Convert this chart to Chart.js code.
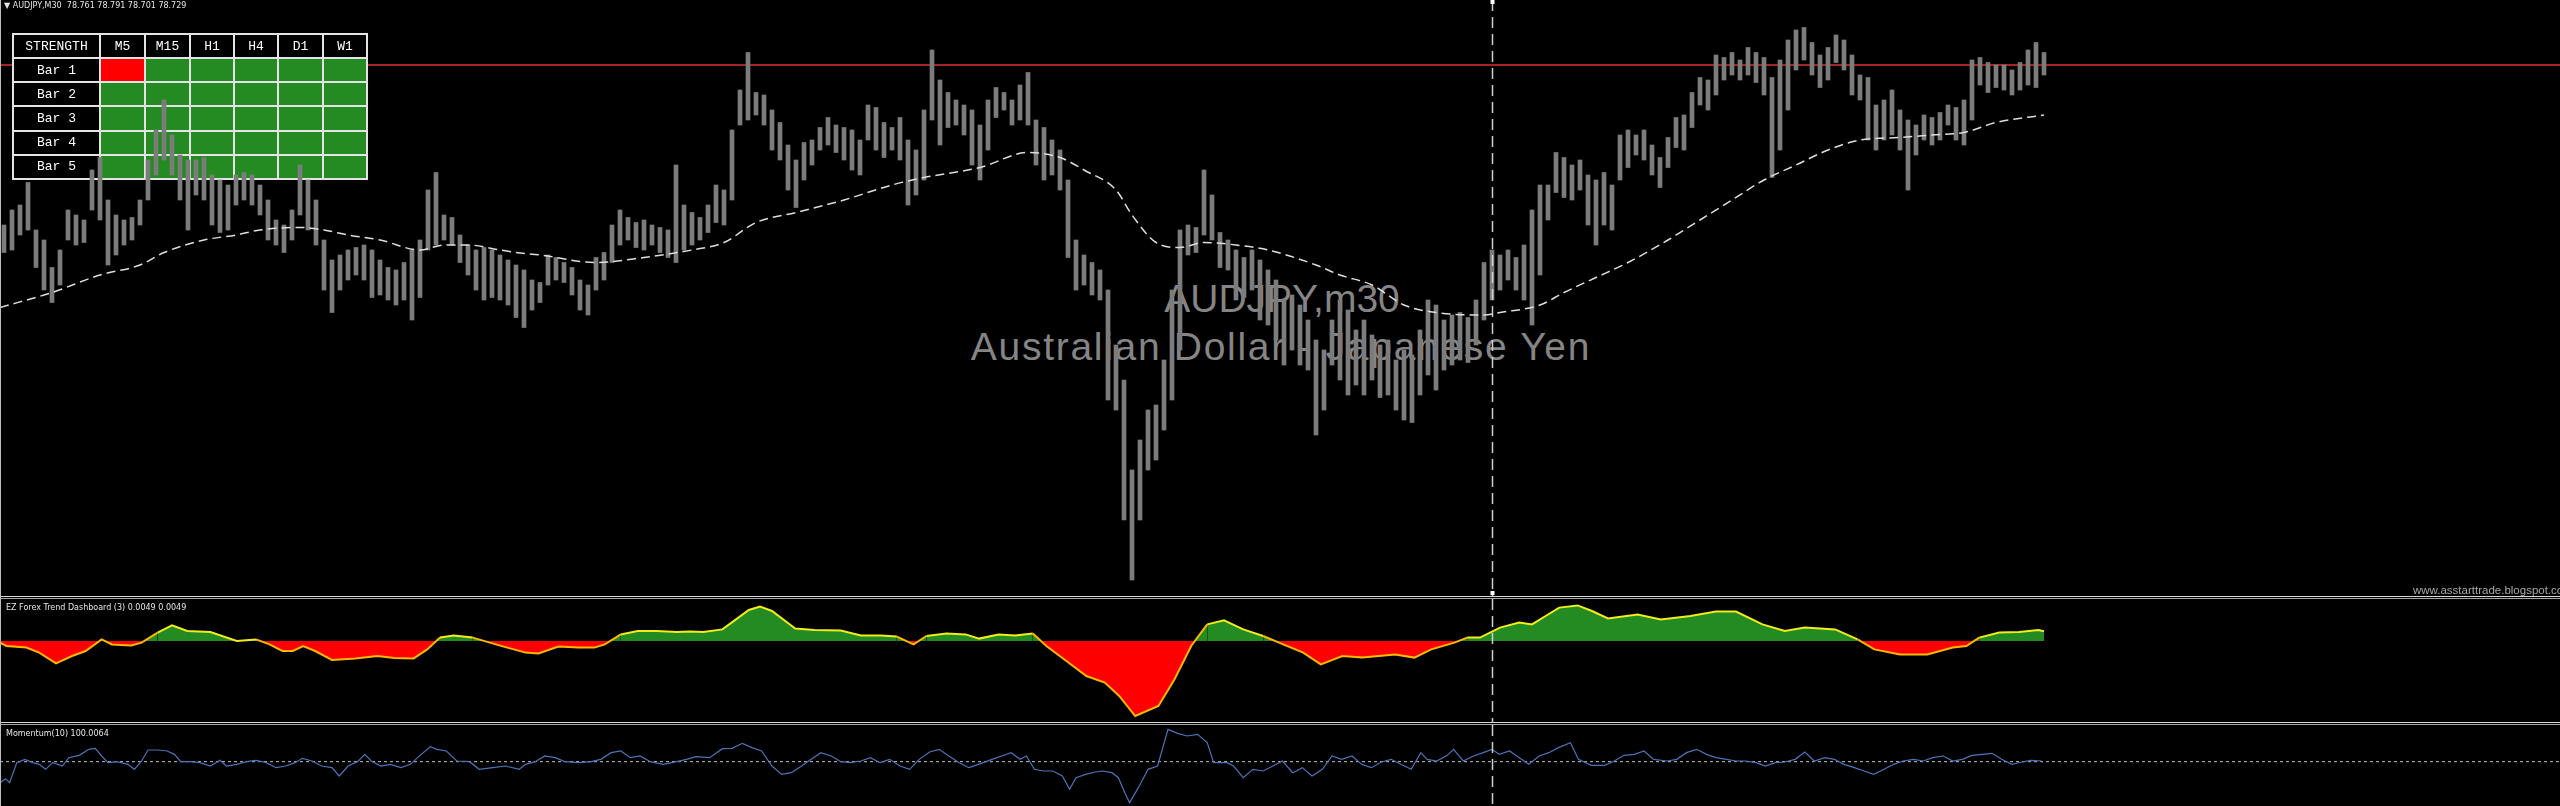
<!DOCTYPE html>
<html>
<head>
<meta charset="utf-8">
<script src="https://cdn.jsdelivr.net/npm/chart.js@4.4.1/dist/chart.umd.min.js"></script>
<style>
  html, body { margin: 0; padding: 0; background: #000; width: 2560px; height: 806px; overflow: hidden; }
  .panel { position: absolute; left: 0; width: 2560px; overflow: hidden; }
  .panel canvas { position: absolute; left: 0; top: 0; }
  .sep { position: absolute; left: 0; width: 2560px; height: 3px; box-sizing: border-box;
         border-top: 1px solid #d6d6d6; border-bottom: 1px solid #a6a6a6; z-index: 5; }
  .label { position: absolute; font-family: 'DejaVu Sans', sans-serif; font-size: 8px; color: #e6e6e6;
           white-space: nowrap; z-index: 4; }
  .wm { position: absolute; font-family: 'Liberation Sans', Arial, sans-serif; font-size: 39px; color: #858585;
        white-space: nowrap; line-height: 39px; transform: translateX(-50%); z-index: 0; }
  #dashboard { position: absolute; left: 12px; top: 33px; width: 354px; height: 147px; table-layout: fixed;
               border-collapse: collapse; font-family: 'Liberation Mono', monospace; font-size: 13px; color: #fff; z-index: 2; }
  #dashboard td { border: 2px solid #e4e4e4; padding: 0; text-align: center; background: #000; }
  #leftEdge { position: absolute; left: 0; top: 0; width: 1px; height: 806px; background: #bcbcbc; z-index: 6; }
  #site { position: absolute; left: 2413px; top: 584px; font-family: 'Liberation Sans', sans-serif;
          font-size: 11.5px; color: #a8a8a8; white-space: nowrap; z-index: 4; }
</style>
</head>
<body>
<div id="main" class="panel" style="top:0;height:596px">
  <div class="wm" style="left:1282px;top:279px">AUDJPY,m30</div>
  <div class="wm" style="left:1281px;top:327px;letter-spacing:1.7px">Australian Dollar - Japanese Yen</div>
  <canvas id="levelChart" width="2560" height="596" style="z-index:1"></canvas>
  <table id="dashboard"></table>
  <canvas id="priceChart" width="2560" height="596" style="z-index:3"></canvas>
  <div class="label" style="left:4px;top:1px">▼ AUDJPY,M30&nbsp; 78.761 78.791 78.701 78.729</div>
  <div id="site">www.asstarttrade.blogspot.com</div>
</div>
<div class="sep" style="top:596px"></div>
<div id="osc" class="panel" style="top:599px;height:123px">
  <canvas id="oscChart" width="2560" height="123"></canvas>
  <div class="label" style="left:6px;top:4px">EZ Forex Trend Dashboard (3) 0.0049 0.0049</div>
</div>
<div class="sep" style="top:722px"></div>
<div id="mom" class="panel" style="top:725px;height:81px">
  <canvas id="momChart" width="2560" height="81"></canvas>
  <div class="label" style="left:6px;top:4px">Momentum(10) 100.0064</div>
</div>
<div id="leftEdge"></div>

<script>
// M30 bars, one entry per bar (oldest first)
const barHigh = [
  78.10, 78.16, 78.18, 78.27, 78.08, 78.04, 77.93, 78.00, 78.16, 78.14, 78.12, 78.32, 78.37, 78.20, 78.14, 78.12,
  78.13, 78.20, 78.36, 78.48, 78.60, 78.46, 78.38, 78.36, 78.36, 78.37, 78.30, 78.28, 78.26, 78.30, 78.31, 78.30,
  78.26, 78.20, 78.12, 78.10, 78.16, 78.34, 78.28, 78.20, 78.04, 77.96, 77.98, 78.00, 78.01, 78.02, 78.00, 77.96,
  77.93, 77.92, 77.95, 78.00, 78.04, 78.24, 78.31, 78.14, 78.13, 78.06, 78.02, 78.00, 78.01, 78.00, 77.98, 77.96,
  77.94, 77.92, 77.88, 77.87, 77.98, 77.97, 77.95, 77.93, 77.88, 77.86, 77.97, 77.99, 78.10, 78.16, 78.13, 78.11,
  78.12, 78.10, 78.09, 78.08, 78.34, 78.18, 78.15, 78.13, 78.18, 78.26, 78.24, 78.48, 78.64, 78.79, 78.63, 78.62,
  78.56, 78.51, 78.42, 78.36, 78.43, 78.44, 78.49, 78.53, 78.50, 78.49, 78.48, 78.44, 78.58, 78.57, 78.51, 78.49,
  78.53, 78.44, 78.40, 78.56, 78.80, 78.68, 78.63, 78.60, 78.58, 78.56, 78.50, 78.60, 78.65, 78.63, 78.60, 78.66,
  78.71, 78.52, 78.49, 78.44, 78.40, 78.28, 78.04, 77.98, 77.95, 77.92, 77.84, 77.62, 77.48, 77.12, 77.24, 77.36,
  77.38, 77.56, 77.84, 78.08, 78.10, 78.09, 78.32, 78.22, 78.07, 78.04, 78.00, 77.97, 78.00, 77.96, 77.92, 77.88,
  77.80, 77.82, 77.78, 77.72, 77.64, 77.60, 77.72, 77.80, 77.76, 77.68, 77.72, 77.66, 77.62, 77.64, 77.56, 77.60,
  77.58, 77.68, 77.80, 77.78, 77.72, 77.74, 77.75, 77.73, 77.80, 77.95, 78.00, 77.98, 78.00, 77.97, 78.02, 78.16,
  78.26, 78.26, 78.39, 78.37, 78.34, 78.36, 78.30, 78.28, 78.31, 78.26, 78.46, 78.48, 78.46, 78.48, 78.42, 78.37,
  78.45, 78.53, 78.54, 78.63, 78.69, 78.68, 78.78, 78.77, 78.79, 78.76, 78.81, 78.79, 78.77, 78.69, 78.76, 78.84,
  78.88, 78.89, 78.83, 78.78, 78.81, 78.86, 78.84, 78.78, 78.70, 78.69, 78.58, 78.60, 78.64, 78.56, 78.52, 78.50,
  78.54, 78.53, 78.55, 78.58, 78.57, 78.60, 78.76, 78.77, 78.75, 78.74, 78.74, 78.72, 78.75, 78.80, 78.83, 78.79
];
const barLow = [
  77.99, 78.00, 78.06, 78.08, 77.93, 77.84, 77.79, 77.86, 78.04, 78.02, 78.03, 78.16, 78.12, 77.94, 77.98, 78.02,
  78.04, 78.10, 78.20, 78.30, 78.36, 78.30, 78.20, 78.08, 78.22, 78.20, 78.10, 78.07, 78.08, 78.18, 78.20, 78.18,
  78.14, 78.04, 78.02, 77.99, 78.04, 78.14, 78.08, 78.02, 77.84, 77.75, 77.84, 77.88, 77.90, 77.88, 77.81, 77.82,
  77.80, 77.78, 77.80, 77.72, 77.81, 78.00, 78.02, 78.04, 78.02, 77.95, 77.90, 77.84, 77.80, 77.81, 77.80, 77.78,
  77.73, 77.69, 77.76, 77.79, 77.86, 77.88, 77.87, 77.82, 77.76, 77.74, 77.84, 77.88, 77.95, 78.02, 78.04, 78.01,
  78.00, 78.02, 77.99, 77.97, 77.95, 78.00, 78.02, 78.04, 78.07, 78.11, 78.10, 78.20, 78.50, 78.52, 78.54, 78.50,
  78.40, 78.36, 78.24, 78.17, 78.28, 78.34, 78.40, 78.42, 78.39, 78.36, 78.32, 78.30, 78.44, 78.40, 78.37, 78.40,
  78.36, 78.18, 78.22, 78.28, 78.52, 78.42, 78.49, 78.50, 78.46, 78.34, 78.28, 78.40, 78.53, 78.56, 78.50, 78.52,
  78.50, 78.34, 78.28, 78.30, 78.24, 77.97, 77.84, 77.86, 77.82, 77.80, 77.40, 77.36, 76.92, 76.68, 76.92, 77.12,
  77.16, 77.28, 77.40, 77.60, 77.98, 77.99, 78.06, 78.04, 77.93, 77.92, 77.80, 77.81, 77.84, 77.72, 77.70, 77.64,
  77.54, 77.60, 77.54, 77.52, 77.26, 77.36, 77.54, 77.48, 77.42, 77.46, 77.42, 77.48, 77.41, 77.42, 77.36, 77.32,
  77.31, 77.42, 77.50, 77.44, 77.52, 77.54, 77.56, 77.55, 77.62, 77.72, 77.80, 77.84, 77.88, 77.84, 77.80, 77.70,
  77.90, 78.12, 78.23, 78.21, 78.20, 78.24, 78.10, 78.02, 78.10, 78.08, 78.28, 78.33, 78.38, 78.36, 78.30, 78.25,
  78.33, 78.41, 78.40, 78.49, 78.58, 78.56, 78.62, 78.68, 78.70, 78.68, 78.70, 78.67, 78.62, 78.29, 78.40, 78.56,
  78.72, 78.76, 78.70, 78.65, 78.68, 78.75, 78.72, 78.62, 78.60, 78.44, 78.40, 78.44, 78.46, 78.40, 78.24, 78.38,
  78.44, 78.42, 78.44, 78.50, 78.44, 78.42, 78.52, 78.66, 78.63, 78.65, 78.64, 78.62, 78.64, 78.66, 78.65, 78.70
];

// moving average, [bar index, price]
const maPoints = [
  [-0.5, 77.77], [6, 77.83], [12, 77.90], [17, 77.94], [20, 77.99], [25, 78.04], [29, 78.06], [32, 78.08],
  [37, 78.09], [40, 78.08], [43, 78.06], [47, 78.04], [52, 78.00], [55, 78.02], [58, 78.02], [62, 78.00],
  [64, 77.99], [67, 77.98], [74, 77.95], [80, 77.97], [86, 78.00], [90, 78.03], [94, 78.11], [99, 78.15],
  [105, 78.20], [111, 78.26], [115, 78.29], [122, 78.33], [128, 78.39], [132, 78.37], [135, 78.32], [139, 78.24],
  [141, 78.14], [144, 78.03], [147, 78.01], [150, 78.03], [154, 78.02], [158, 78.00], [164, 77.94], [167, 77.90],
  [171, 77.86], [175, 77.78], [179, 77.75], [185, 77.74], [187, 77.75], [192, 77.78], [195, 77.83], [199, 77.89],
  [203, 77.95], [208, 78.04], [212, 78.12], [216, 78.20], [220, 78.28], [224, 78.34], [228, 78.40], [232, 78.44],
  [237, 78.45], [241, 78.46], [245, 78.47], [249, 78.51], [255, 78.54]
];

// EZ Forex Trend Dashboard oscillator, [bar index, value]
const oscPoints = [
  [-0.5, -0.0008], [0.3, -0.0025], [2.8, -0.0033], [4.4, -0.0058], [6.5, -0.0112], [8.5, -0.0075], [10.2, -0.0050],
  [12.2, 0.0008], [13.5, -0.0017], [15.9, -0.0022], [17.2, -0.0008], [19.2, 0.0042], [21.0, 0.0078], [22.9, 0.0050],
  [25.8, 0.0045], [29.1, 0.0000], [31.5, 0.0008], [33.2, -0.0017], [34.8, -0.0050], [36.1, -0.0050], [37.4, -0.0025],
  [38.9, -0.0050], [41.0, -0.0095], [43.9, -0.0087], [46.7, -0.0075], [48.8, -0.0085], [51.2, -0.0087], [52.9, -0.0042],
  [54.5, 0.0017], [56.2, 0.0028], [58.6, 0.0017], [61.9, -0.0022], [65.2, -0.0058], [66.8, -0.0062], [69.3, -0.0028],
  [71.8, -0.0033], [73.8, -0.0033], [75.1, -0.0017], [77.1, 0.0033], [79.2, 0.0050], [81.6, 0.0050], [84.1, 0.0045],
  [85.7, 0.0048], [87.4, 0.0045], [89.8, 0.0058], [91.5, 0.0108], [93.1, 0.0155], [94.5, 0.0172], [96.0, 0.0150],
  [98.9, 0.0062], [101.3, 0.0055], [104.6, 0.0052], [107.1, 0.0028], [109.6, 0.0028], [111.6, 0.0022], [113.7, -0.0017],
  [115.3, 0.0025], [117.8, 0.0038], [120.2, 0.0033], [121.9, 0.0012], [124.3, 0.0033], [126.4, 0.0028], [128.6, 0.0038],
  [130.3, -0.0025], [132.8, -0.0100], [135.3, -0.0175], [137.6, -0.0208], [139.4, -0.0275], [141.4, -0.0375], [144.3, -0.0325],
  [146.3, -0.0192], [148.4, -0.0025], [150.4, 0.0083], [152.5, 0.0103], [154.9, 0.0058], [157.4, 0.0025], [159.9, -0.0017],
  [162.4, -0.0058], [164.6, -0.0117], [167.3, -0.0075], [169.8, -0.0083], [173.9, -0.0067], [176.3, -0.0083], [178.4, -0.0042],
  [181.3, -0.0008], [182.9, 0.0017], [184.5, 0.0017], [187.0, 0.0067], [189.4, 0.0092], [191.0, 0.0083], [192.7, 0.0125],
  [194.4, 0.0167], [196.7, 0.0178], [198.5, 0.0150], [200.5, 0.0113], [204.2, 0.0133], [207.1, 0.0108], [210.8, 0.0125],
  [214.0, 0.0147], [216.5, 0.0147], [219.8, 0.0083], [222.6, 0.0050], [225.1, 0.0067], [228.9, 0.0058], [231.7, 0.0008],
  [233.8, -0.0042], [237.0, -0.0067], [240.4, -0.0067], [243.6, -0.0033], [245.3, -0.0025], [246.9, 0.0017], [249.4, 0.0042],
  [251.9, 0.0045], [254.3, 0.0055], [255.0, 0.0049]
];

// Momentum(10), [bar index, value]
const momentumPoints = [
  [-0.5, 99.37], [0.2, 99.49], [0.7, 99.37], [1.6, 99.97], [2.6, 100.07], [3.6, 99.97], [4.4, 99.92], [5.2, 99.77],
  [6.1, 99.97], [7.3, 99.87], [8.1, 100.12], [9.4, 100.19], [10.6, 100.37], [11.4, 100.40], [12.2, 100.17], [13.0, 99.97],
  [14.1, 100.00], [15.5, 99.92], [16.3, 99.77], [17.2, 100.02], [18.0, 100.35], [19.2, 100.35], [20.4, 100.32], [21.3, 100.22],
  [22.1, 100.00], [23.3, 100.00], [24.5, 99.97], [25.8, 99.87], [27.0, 100.04], [27.8, 99.87], [29.1, 99.92], [30.3, 100.00],
  [31.5, 100.04], [32.8, 99.97], [34.0, 99.82], [35.2, 99.87], [36.4, 99.97], [37.3, 100.10], [38.5, 100.02], [39.7, 99.87],
  [41.0, 99.82], [41.9, 99.57], [43.0, 99.87], [44.2, 100.00], [45.1, 100.22], [45.9, 100.02], [47.1, 99.87], [48.3, 99.92],
  [49.6, 99.82], [50.8, 99.92], [52.0, 100.19], [53.3, 100.45], [54.1, 100.37], [55.3, 100.32], [56.6, 100.02], [58.2, 100.00],
  [59.4, 99.77], [61.1, 99.82], [62.7, 99.87], [64.4, 99.77], [65.2, 99.92], [66.4, 100.00], [67.6, 100.17], [68.9, 100.12],
  [70.1, 100.00], [71.8, 99.97], [73.4, 100.00], [74.6, 100.07], [75.9, 100.27], [77.1, 100.32], [78.3, 100.12], [79.5, 100.17],
  [80.8, 100.00], [82.4, 99.92], [84.1, 100.00], [85.3, 100.07], [86.5, 100.15], [88.2, 100.12], [89.8, 100.39], [91.0, 100.40],
  [92.3, 100.55], [93.5, 100.42], [94.7, 100.32], [96.0, 99.87], [97.2, 99.62], [98.4, 99.67], [99.7, 99.87], [100.9, 100.07],
  [102.1, 100.27], [103.4, 100.17], [104.6, 100.00], [105.8, 99.97], [107.1, 100.02], [108.3, 100.12], [109.5, 99.97], [110.7, 100.07],
  [112.0, 99.87], [113.2, 99.77], [114.4, 100.07], [115.7, 100.29], [116.9, 100.37], [118.1, 100.17], [119.4, 99.97], [120.6, 99.82],
  [121.8, 99.92], [123.5, 100.07], [124.7, 100.17], [125.9, 100.27], [127.0, 100.07], [127.8, 100.17], [128.8, 99.77], [129.9, 99.72],
  [131.1, 99.72], [132.3, 99.57], [133.2, 99.17], [134.0, 99.52], [135.2, 99.62], [136.4, 99.69], [137.3, 99.72], [138.5, 99.67],
  [139.3, 99.52], [140.1, 99.07], [140.7, 98.77], [141.8, 99.22], [143.0, 99.77], [144.2, 99.87], [145.5, 100.97], [146.7, 100.85],
  [147.9, 100.77], [149.2, 100.82], [150.4, 100.57], [151.2, 99.97], [152.9, 99.97], [153.7, 99.87], [154.9, 99.52], [156.1, 99.77],
  [157.4, 99.72], [158.6, 99.87], [159.8, 100.02], [161.1, 99.67], [162.3, 99.82], [163.5, 99.57], [164.8, 99.77], [166.0, 100.17],
  [167.2, 100.07], [168.5, 100.17], [169.7, 99.92], [170.9, 99.82], [172.2, 99.99], [173.4, 100.07], [174.6, 99.92], [175.9, 99.77],
  [177.1, 100.27], [177.9, 100.07], [179.1, 100.02], [180.4, 100.19], [181.2, 100.37], [182.4, 100.02], [183.7, 100.17], [184.9, 100.27],
  [186.0, 100.37], [186.9, 100.22], [188.2, 100.32], [189.4, 100.12], [190.6, 99.92], [191.9, 100.17], [193.1, 100.27], [194.3, 100.42],
  [195.8, 100.57], [196.8, 100.07], [198.4, 99.89], [200.1, 99.89], [201.3, 100.02], [202.5, 100.19], [203.8, 100.22], [205.0, 100.32],
  [206.2, 100.07], [207.9, 100.02], [209.1, 100.07], [210.3, 100.27], [211.6, 100.37], [212.8, 100.22], [214.0, 100.12], [215.3, 100.07],
  [216.5, 100.02], [217.7, 100.02], [219.0, 99.97], [220.2, 99.87], [221.4, 99.97], [222.6, 99.99], [223.9, 100.07], [225.1, 100.29],
  [226.3, 100.02], [227.6, 100.12], [228.8, 100.07], [230.0, 99.92], [231.3, 99.82], [232.5, 99.72], [233.7, 99.62], [235.0, 99.77],
  [236.2, 99.92], [237.4, 100.02], [238.7, 100.07], [239.9, 100.02], [241.1, 100.12], [242.4, 100.17], [243.6, 100.02], [244.8, 100.07],
  [246.0, 100.19], [247.3, 100.22], [248.5, 100.25], [249.7, 100.07], [251.0, 99.92], [252.2, 99.99], [253.4, 100.04], [254.7, 100.02]
];

// dashboard cells: 1 = up (green), -1 = down (red)
const timeframes = ['M5', 'M15', 'H1', 'H4', 'D1', 'W1'];
const barRows = ['Bar 1', 'Bar 2', 'Bar 3', 'Bar 4', 'Bar 5'];
const trendState = [
  [-1, 1, 1, 1, 1, 1],
  [1, 1, 1, 1, 1, 1],
  [1, 1, 1, 1, 1, 1],
  [1, 1, 1, 1, 1, 1],
  [1, 1, 1, 1, 1, 1]
];

const askPrice = 78.74;
const momentumLevel = 100;
const crosshairBar = 186;
const visibleBars = 320;

const X_MIN = -0.5;
const X_MAX = visibleBars - 0.5;

const xAxis = { type: 'linear', min: X_MIN, max: X_MAX, display: false, offset: false, grid: { display: false } };

function yAxis(min, max) {
  return { type: 'linear', min, max, display: false, grid: { display: false } };
}

const baseOptions = {
  responsive: false,
  animation: false,
  devicePixelRatio: 1,
  events: [],
  layout: { padding: 0 },
  plugins: { legend: { display: false }, tooltip: { enabled: false } },
};

const crosshairPlugin = {
  id: 'crosshair',
  afterDatasetsDraw(chart, args, opts) {
    if (!opts || opts.index == null) return;
    const x = Math.round(chart.scales.x.getPixelForValue(opts.index)) + 0.5;
    const { top, bottom } = chart.chartArea;
    const ctx = chart.ctx;
    ctx.save();
    ctx.strokeStyle = '#cfcfcf';
    ctx.lineWidth = 1.5;
    ctx.setLineDash([11, 6]);
    ctx.beginPath();
    ctx.moveTo(x, top);
    ctx.lineTo(x, bottom);
    ctx.stroke();
    if (opts.marks) {
      ctx.fillStyle = '#ffffff';
      ctx.fillRect(x - 2, top, 4, 4);
      ctx.fillRect(x - 2, bottom - 5, 4, 4);
    }
    ctx.restore();
  }
};

function toXY(points) {
  return points.map(([x, y]) => ({ x, y }));
}

function levelLine(value) {
  return [{ x: X_MIN, y: value }, { x: X_MAX, y: value }];
}

function buildDashboard() {
  const table = document.getElementById('dashboard');
  const colWidths = [87, 45, 45, 44, 44, 45, 44];
  const colgroup = document.createElement('colgroup');
  for (const w of colWidths) {
    const col = document.createElement('col');
    col.style.width = w + 'px';
    colgroup.appendChild(col);
  }
  table.appendChild(colgroup);

  const head = document.createElement('tr');
  for (const text of ['STRENGTH', ...timeframes]) {
    const td = document.createElement('td');
    td.textContent = text;
    head.appendChild(td);
  }
  table.appendChild(head);

  barRows.forEach((name, r) => {
    const tr = document.createElement('tr');
    const label = document.createElement('td');
    label.textContent = name;
    tr.appendChild(label);
    trendState[r].forEach((state) => {
      const td = document.createElement('td');
      td.style.background = state > 0 ? '#238b22' : '#ff0000';
      tr.appendChild(td);
    });
    table.appendChild(tr);
  });
}

const PRICE_MIN = 76.616;
const PRICE_MAX = 79.0;

function initLevelChart() {
  new Chart(document.getElementById('levelChart'), {
    type: 'line',
    data: {
      datasets: [{
        data: levelLine(askPrice),
        borderColor: '#a82424',
        borderWidth: 2,
        pointRadius: 0,
        fill: false,
      }],
    },
    options: { ...baseOptions, scales: { x: xAxis, y: yAxis(PRICE_MIN, PRICE_MAX) } },
  });
}

function initPriceChart() {
  const bars = barHigh.map((h, i) => ({ x: i, y: [barLow[i], h] }));
  new Chart(document.getElementById('priceChart'), {
    type: 'bar',
    data: {
      datasets: [
        {
          type: 'line',
          data: toXY(maPoints),
          borderColor: '#dedede',
          borderWidth: 1.5,
          borderDash: [9, 5],
          pointRadius: 0,
          cubicInterpolationMode: 'monotone',
          fill: false,
          order: 0,
        },
        {
          data: bars,
          backgroundColor: '#7c7c7c',
          borderWidth: 0,
          barThickness: 4,
          order: 1,
        },
      ],
    },
    options: {
      ...baseOptions,
      scales: { x: xAxis, y: yAxis(PRICE_MIN, PRICE_MAX) },
      plugins: { ...baseOptions.plugins, crosshair: { index: crosshairBar, marks: true } },
    },
    plugins: [crosshairPlugin],
  });
}

function initOscChart() {
  new Chart(document.getElementById('oscChart'), {
    type: 'line',
    data: {
      datasets: [{
        data: toXY(oscPoints),
        borderColor: '#f2ec1c',
        borderWidth: 2,
        pointRadius: 0,
        fill: { target: { value: 0 }, above: '#238b22', below: '#ff0000' },
        segment: {
          borderColor: (c) => (c.p0.parsed.y < 0 || c.p1.parsed.y < 0 ? '#ffb800' : '#f2ec1c'),
        },
      }],
    },
    options: {
      ...baseOptions,
      scales: { x: xAxis, y: yAxis(-0.0405, 0.021) },
      plugins: { ...baseOptions.plugins, crosshair: { index: crosshairBar } },
    },
    plugins: [crosshairPlugin],
  });
}

function initMomentumChart() {
  new Chart(document.getElementById('momChart'), {
    type: 'line',
    data: {
      datasets: [
        {
          data: toXY(momentumPoints),
          borderColor: '#4d73b8',
          borderWidth: 1.2,
          pointRadius: 0,
          fill: false,
          order: 0,
        },
        {
          data: levelLine(momentumLevel),
          borderColor: '#c4c4c4',
          borderWidth: 1,
          borderDash: [3, 3],
          pointRadius: 0,
          fill: false,
          order: 1,
        },
      ],
    },
    options: {
      ...baseOptions,
      scales: { x: xAxis, y: yAxis(98.67, 101.10) },
      plugins: { ...baseOptions.plugins, crosshair: { index: crosshairBar } },
    },
    plugins: [crosshairPlugin],
  });
}

buildDashboard();
initLevelChart();
initPriceChart();
initOscChart();
initMomentumChart();
</script>
</body>
</html>
